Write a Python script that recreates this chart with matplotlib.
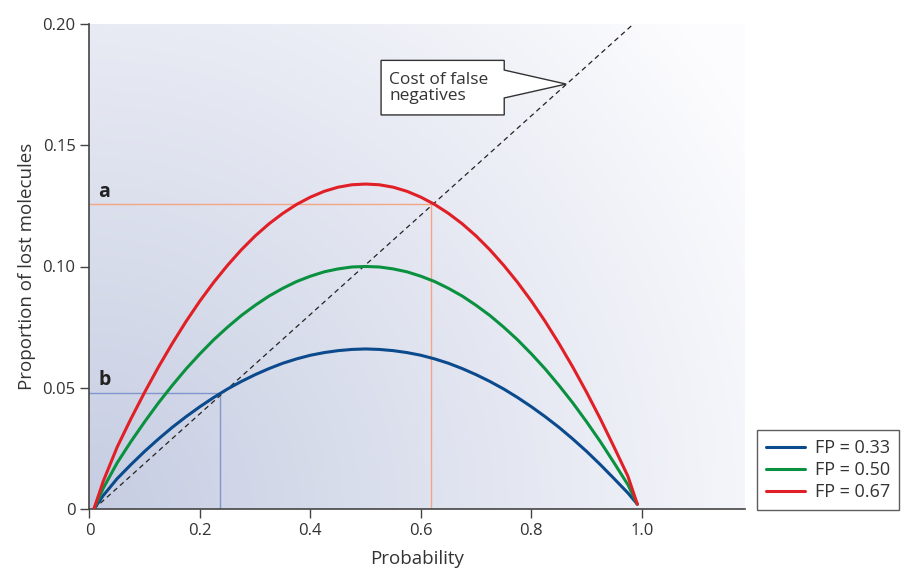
import numpy as np
import matplotlib
matplotlib.use("Agg")
import matplotlib.pyplot as plt
from matplotlib.patches import Polygon

plt.rcParams['font.family'] = ['Open Sans', 'DejaVu Sans']

# Probability values where the curves were read
prob = [0.008, 0.025, 0.05, 0.075, 0.1, 0.125, 0.15, 0.175, 0.2, 0.225, 0.25,
        0.275, 0.3, 0.325, 0.35, 0.375, 0.4, 0.425, 0.45, 0.475, 0.5,
        0.525, 0.55, 0.575, 0.6, 0.625, 0.65, 0.675, 0.7, 0.725, 0.75,
        0.775, 0.8, 0.825, 0.85, 0.875, 0.9, 0.925, 0.95, 0.975, 0.992]

# Proportion of lost molecules for each false-positive rate
lost_fp033 = [0.0, 0.0056, 0.0125, 0.0183, 0.0238, 0.0289, 0.0337, 0.0381, 0.0422, 0.0460, 0.0495,
              0.0526, 0.0554, 0.0579, 0.0601, 0.0619, 0.0634, 0.0645, 0.0653, 0.0658, 0.0660,
              0.0658, 0.0653, 0.0645, 0.0634, 0.0619, 0.0601, 0.0579, 0.0554, 0.0526, 0.0495,
              0.0460, 0.0422, 0.0381, 0.0337, 0.0289, 0.0238, 0.0183, 0.0125, 0.0066, 0.002]
lost_fp050 = [0.0, 0.0086, 0.0190, 0.0278, 0.0360, 0.0438, 0.0510, 0.0578, 0.0640, 0.0698, 0.0750,
              0.0798, 0.0840, 0.0878, 0.0910, 0.0938, 0.0960, 0.0978, 0.0990, 0.0998, 0.1000,
              0.0998, 0.0990, 0.0978, 0.0960, 0.0938, 0.0910, 0.0878, 0.0840, 0.0798, 0.0750,
              0.0698, 0.0640, 0.0578, 0.0510, 0.0438, 0.0360, 0.0278, 0.0190, 0.0100, 0.002]
lost_fp067 = [0.0, 0.0115, 0.0255, 0.0372, 0.0482, 0.0586, 0.0683, 0.0774, 0.0858, 0.0935, 0.1005,
              0.1069, 0.1126, 0.1176, 0.1219, 0.1256, 0.1286, 0.1310, 0.1327, 0.1337, 0.1340,
              0.1337, 0.1327, 0.1310, 0.1286, 0.1256, 0.1219, 0.1176, 0.1126, 0.1069, 0.1005,
              0.0935, 0.0858, 0.0774, 0.0683, 0.0586, 0.0482, 0.0372, 0.0255, 0.0135, 0.002]

series_labels = ['FP = 0.33', 'FP = 0.50', 'FP = 0.67']
series_colors = ['#0b4a8c', '#0a9140', '#e01f26']

# cost of false negatives (dashed diagonal)
cost_x = [0.008, 0.985]
cost_y = [0.0, 0.2]

# intersection points a and b
point_a = (0.618, 0.1256)
point_b = (0.236, 0.0479)

xticks = [0, 0.2, 0.4, 0.6, 0.8, 1.0]
xticklabels = ['0', '0.2', '0.4', '0.6', '0.8', '1.0']
yticks = [0, 0.05, 0.10, 0.15, 0.20]
yticklabels = ['0', '0.05', '0.10', '0.15', '0.20']

XMAX = 1.187
YMAX = 0.2

fig = plt.figure(figsize=(9.04, 5.70), dpi=100)
ax = fig.add_axes([89.5 / 904, 1 - 509 / 570, (745 - 89.5) / 904, (509 - 24) / 570])

# radial background gradient from bottom left
gx = np.linspace(0, 655, 330)
gy = np.linspace(0, 485, 245)
GX, GY = np.meshgrid(gx, gy)
d = np.clip(np.sqrt(GX ** 2 + GY ** 2) / 760, 0, 1)
c0 = np.array([198, 205, 226]) / 255
c1 = np.array([252, 252, 254]) / 255
img = c0[None, None, :] + (c1 - c0)[None, None, :] * d[:, :, None]
ax.imshow(img, extent=(0, XMAX, 0, YMAX), origin='lower', aspect='auto', zorder=0)

# guide lines for a and b
ax.plot([0, point_a[0]], [point_a[1], point_a[1]], color='#f4a585', lw=1, zorder=1)
ax.plot([point_a[0], point_a[0]], [0, point_a[1]], color='#f4a585', lw=1, zorder=1)
ax.plot([0, point_b[0]], [point_b[1], point_b[1]], color='#7f97cc', lw=1, zorder=1)
ax.plot([point_b[0], point_b[0]], [0, point_b[1]], color='#7f97cc', lw=1, zorder=1)

ax.plot(cost_x, cost_y, color='#222222', lw=0.9, dashes=(4, 3), zorder=2)

for vals, lab, col in zip([lost_fp033, lost_fp050, lost_fp067], series_labels, series_colors):
    ax.plot(prob, vals, color=col, lw=2.2, label=lab, zorder=3,
            solid_capstyle='round', solid_joinstyle='round')

ax.text(0.016, point_a[1] + 0.0012, 'a', fontsize=14, fontweight='bold', color='#222222',
        va='bottom', ha='left')
ax.text(0.016, point_b[1] + 0.0012, 'b', fontsize=14, fontweight='bold', color='#222222',
        va='bottom', ha='left')

# callout box for cost of false negatives
tip_x = 0.863
tip_y = tip_x * cost_y[1] / cost_x[1]
bx0, bx1, by0, by1 = 0.528, 0.751, 0.1625, 0.185
callout = Polygon([(bx0, by0), (bx1, by0), (bx1, 0.1695), (tip_x, tip_y), (bx1, 0.181),
                   (bx1, by1), (bx0, by1)], closed=True, facecolor='white',
                  edgecolor='#333333', lw=1, zorder=4)
ax.add_patch(callout)
ax.text(bx0 + 0.015, (by0 + by1) / 2, 'Cost of false\nnegatives', fontsize=12.5,
        color='#333333', va='center', ha='left', linespacing=1.0, zorder=5)

ax.set_xlim(0, XMAX)
ax.set_ylim(0, YMAX)
ax.set_xticks(xticks)
ax.set_xticklabels(xticklabels)
ax.set_yticks(yticks)
ax.set_yticklabels(yticklabels)
ax.tick_params(colors='#444444', labelcolor='#333333', labelsize=12, length=6.5, width=1)
for s in ['top', 'right']:
    ax.spines[s].set_visible(False)
for s in ['left', 'bottom']:
    ax.spines[s].set_color('#444444')
    ax.spines[s].set_linewidth(1.2)

ax.set_xlabel('Probability', fontsize=13.5, color='#333333', labelpad=8)
ax.set_ylabel('Proportion of lost molecules', fontsize=13.5, color='#333333', labelpad=5)

leg = fig.legend(loc='lower left', bbox_to_anchor=(757 / 904, 1 - 510 / 570),
                 fontsize=13, frameon=True, fancybox=False, handlelength=2.15,
                 borderpad=0.5, borderaxespad=0, labelspacing=0.22, handletextpad=0.55)
leg.get_frame().set_edgecolor('#333333')
leg.get_frame().set_linewidth(1)
for t in leg.get_texts():
    t.set_color('#333333')

fig.savefig('out.png', dpi=100)
